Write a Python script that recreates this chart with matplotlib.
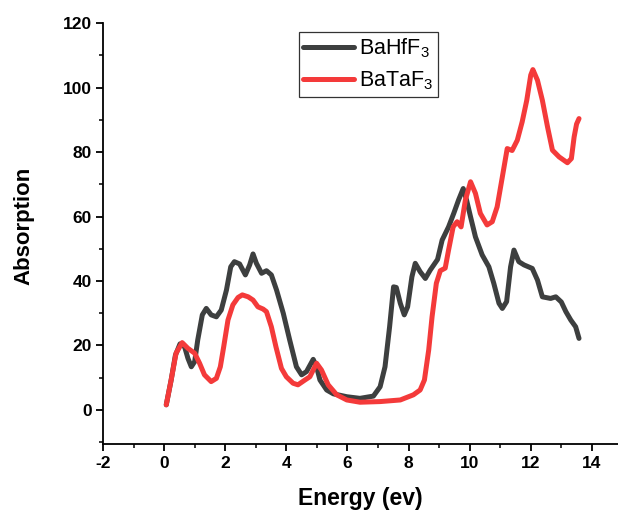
import matplotlib
matplotlib.use("Agg")
import matplotlib.pyplot as plt
from matplotlib.ticker import MultipleLocator

plt.rcParams['font.family'] = ['Liberation Sans', 'DejaVu Sans']
plt.rcParams['mathtext.default'] = 'regular'
plt.rcParams['axes.unicode_minus'] = False

# Absorption spectra (energy in eV)
hf_energy = [0.07, 0.23, 0.37, 0.52, 0.67, 0.78, 0.89, 1.00, 1.10, 1.25, 1.38,
             1.54, 1.71, 1.87, 2.04, 2.18, 2.30, 2.47, 2.66, 2.80, 2.91, 3.02,
             3.19, 3.35, 3.51, 3.68, 3.90, 4.11, 4.33, 4.50, 4.66, 4.88, 4.99,
             5.10, 5.32, 5.54, 5.98, 6.41, 6.85, 7.07, 7.23, 7.38, 7.51, 7.60,
             7.73, 7.86, 7.97, 8.11, 8.22, 8.38, 8.55, 8.71, 8.95, 9.10, 9.31,
             9.48, 9.64, 9.79, 9.90, 10.03, 10.19, 10.41, 10.63, 10.79, 10.96,
             11.07, 11.21, 11.34, 11.45, 11.61, 11.78, 12.05, 12.22, 12.38, 12.65,
             12.82, 13.00, 13.15, 13.31, 13.47, 13.58]
hf_abs = [1.6, 9.3, 17.0, 20.5, 19.6, 16.0, 13.4, 15.0, 21.7, 29.5, 31.5,
          29.5, 28.9, 31.0, 37.2, 44.4, 46.0, 45.3, 41.9, 45.0, 48.4, 45.5,
          42.4, 43.2, 41.9, 37.2, 30.0, 21.7, 13.4, 10.9, 11.9, 15.7, 13.4,
          9.3, 6.2, 5.0, 4.1, 3.6, 4.3, 7.2, 13.4, 25.8, 38.2, 38.0,
          33.1, 29.5, 32.0, 41.3, 45.5, 42.9, 40.8, 43.4, 46.7, 52.7, 56.8,
          61.0, 65.2, 68.7, 65.1, 59.9, 53.7, 48.1, 44.4, 39.3, 33.1,
          31.5, 33.6, 44.4, 49.6, 46.0, 45.0, 43.9, 40.3, 35.1, 34.6,
          35.1, 33.5, 30.5, 27.9, 25.8, 22.2]

ta_energy = [0.07, 0.23, 0.39, 0.59, 0.78, 1.00, 1.16, 1.32, 1.54, 1.71, 1.84,
             1.95, 2.09, 2.25, 2.42, 2.56, 2.75, 2.91, 3.07, 3.24, 3.35, 3.51,
             3.66, 3.84, 4.00, 4.22, 4.38, 4.61, 4.77, 4.99, 5.15, 5.37, 5.65,
             5.98, 6.41, 7.07, 7.73, 8.16, 8.38, 8.52, 8.66, 8.77, 8.91, 9.04,
             9.20, 9.31, 9.46, 9.59, 9.72, 9.86, 10.03, 10.19, 10.35, 10.57, 10.74,
             10.90, 11.07, 11.23, 11.39, 11.56, 11.72, 11.87, 12.00, 12.07, 12.22,
             12.38, 12.55, 12.71, 12.93, 13.20, 13.33, 13.42, 13.50, 13.58]
ta_abs = [1.6, 9.3, 17.6, 20.9, 19.1, 17.6, 14.5, 10.9, 8.8, 9.8, 13.4,
          19.6, 27.9, 32.6, 34.9, 35.7, 35.1, 34.1, 32.0, 31.3, 30.5, 25.8,
          19.6, 12.9, 10.3, 8.3, 7.8, 9.3, 10.3, 14.5, 12.4, 7.8, 4.7,
          3.1, 2.4, 2.6, 3.1, 4.7, 6.2, 9.3, 18.6, 28.9, 39.3, 43.2,
          44.0, 49.6, 56.8, 58.4, 56.8, 65.1, 70.8, 67.2, 61.0, 57.4, 58.4,
          63.0, 72.3, 81.1, 80.5, 83.7, 89.4, 96.1, 103.9, 105.6, 102.3,
          96.1, 87.8, 80.6, 78.5, 76.7, 78.0, 84.7, 88.7, 90.4]

fig = plt.figure(figsize=(6.18, 5.15), dpi=100)
ax = fig.add_axes([0.1667, 0.137, 0.833, 0.818])

ax.plot(hf_energy, hf_abs, color='#3d3f3f', lw=3.6, label='BaHfF$_3$',
        solid_joinstyle='round', solid_capstyle='round')
ax.plot(ta_energy, ta_abs, color='#f43a3a', lw=3.6, label='BaTaF$_3$',
        solid_joinstyle='round', solid_capstyle='round')

ax.set_xlim(-2, 14.85)
ax.set_ylim(-10.7, 120)
ax.xaxis.set_major_locator(MultipleLocator(2))
ax.xaxis.set_minor_locator(MultipleLocator(1))
ax.yaxis.set_major_locator(MultipleLocator(20))
ax.yaxis.set_minor_locator(MultipleLocator(10))

for side in ('top', 'right'):
    ax.spines[side].set_visible(False)
for side in ('left', 'bottom'):
    ax.spines[side].set_linewidth(1.3)

ax.tick_params(which='major', direction='out', length=5, width=1.3,
               labelsize=12.5, pad=3)
ax.tick_params(which='minor', direction='out', length=3, width=1.1)
for lbl in ax.get_xticklabels() + ax.get_yticklabels():
    lbl.set_fontweight('bold')

ax.set_xlabel('Energy (ev)', fontsize=16.5, fontweight='bold', labelpad=12)
ax.set_ylabel('Absorption', fontsize=16, fontweight='bold')
ax.yaxis.set_label_coords(-0.134, 0.52)

leg = ax.legend(loc='upper left', bbox_to_anchor=(0.381, 0.979), fontsize=15.5,
                frameon=True, fancybox=False, handlelength=2.35,
                handletextpad=0.25, borderpad=0.2, labelspacing=0.45,
                borderaxespad=0)
leg.get_frame().set_edgecolor('black')
leg.get_frame().set_linewidth(0.9)

fig.savefig('out.png', dpi=100)
